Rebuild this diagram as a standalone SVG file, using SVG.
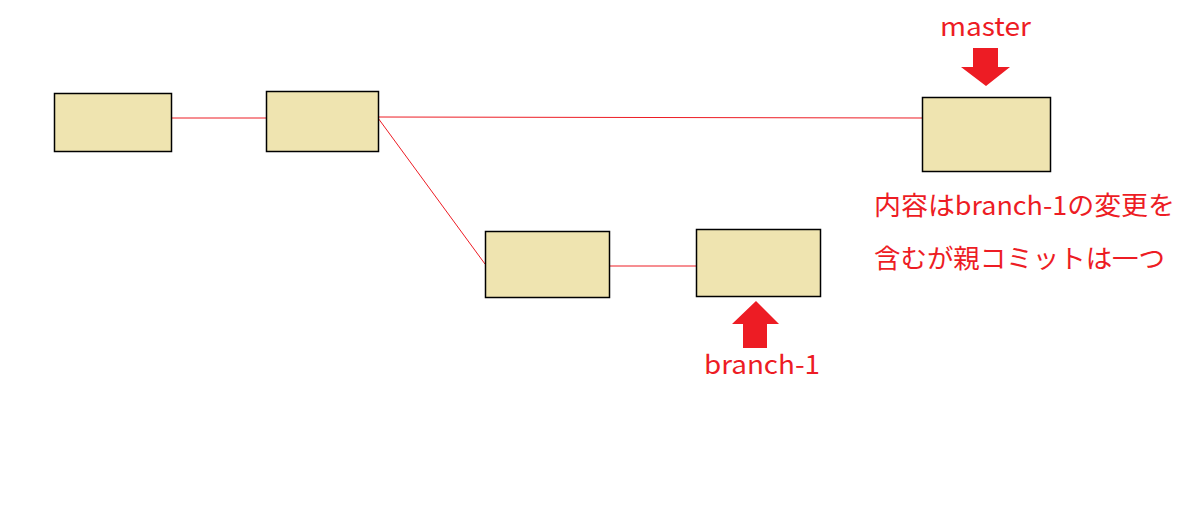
<svg xmlns="http://www.w3.org/2000/svg" width="1192" height="512" viewBox="0 0 1192 512">
<style>
.box{fill:#EFE4B0;stroke:#000;stroke-width:1.5}
.con{stroke:#ED1C24;stroke-width:1;fill:none}
.lbl{fill:#ED1C24;font-family:"Noto Sans CJK JP","Noto Sans",sans-serif;font-size:26px}
.arw{fill:#ED1C24}
</style>
<rect width="1192" height="512" fill="#fff"/>
<g id="connectors">
<line class="con" x1="171" y1="118" x2="267" y2="118"/>
<line class="con" x1="378" y1="117" x2="922" y2="118"/>
<line class="con" x1="378" y1="118" x2="485" y2="264"/>
<line class="con" x1="609" y1="266" x2="697" y2="266"/>
</g>
<g id="c1"><rect class="box" x="54.5" y="93.5" width="117" height="58"/></g>
<g id="c2"><rect class="box" x="266.5" y="91.5" width="112" height="60"/></g>
<g id="c3"><rect class="box" x="922.5" y="97.5" width="128" height="74"/></g>
<g id="c4"><rect class="box" x="485.5" y="231.5" width="124" height="66"/></g>
<g id="c5"><rect class="box" x="696.5" y="229.5" width="124" height="67"/></g>
<g id="master">
<text class="lbl" x="940" y="36" textLength="91" lengthAdjust="spacingAndGlyphs">master</text>
<polygon class="arw" points="973,48 998,48 998,67 1010,67 986,86 961,67 973,67"/>
</g>
<g id="branch-1">
<polygon class="arw" points="756,301 779,324 767,324 767,348 743,348 743,324 732,324"/>
<text class="lbl" x="704" y="374" textLength="116" lengthAdjust="spacingAndGlyphs">branch-1</text>
</g>
<g id="note">
<text class="lbl" x="874" y="215" textLength="301" lengthAdjust="spacingAndGlyphs">内容はbranch-1の変更を</text>
<text class="lbl" x="874" y="268" textLength="291" lengthAdjust="spacingAndGlyphs">含むが親コミットは一つ</text>
</g>
</svg>
